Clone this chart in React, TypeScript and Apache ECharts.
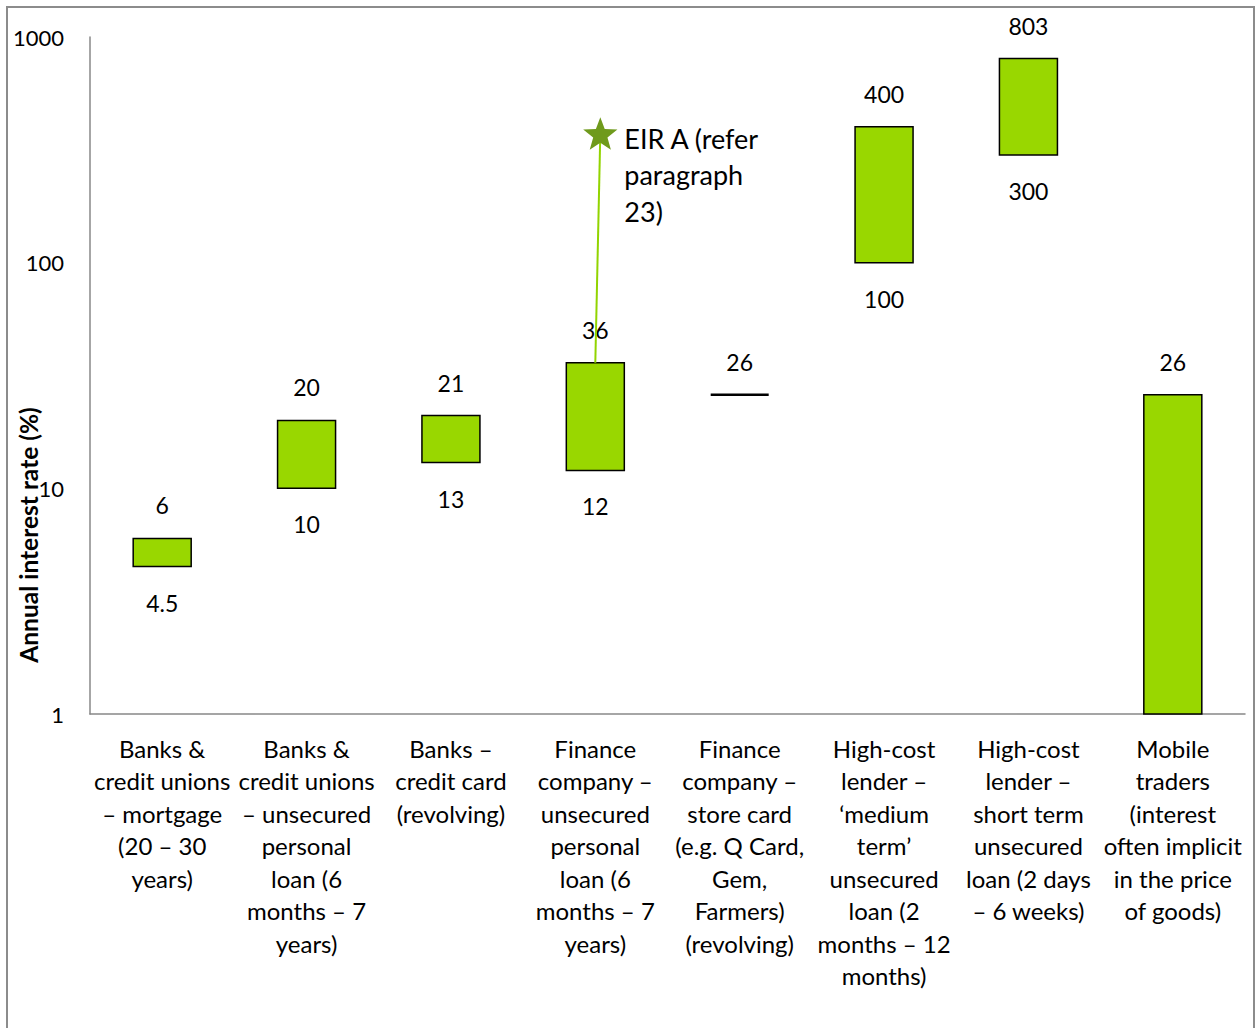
import React, { useEffect, useRef } from "react";
import * as echarts from "echarts";

const categories = [
  "Banks &\ncredit unions\n– mortgage\n(20 – 30\nyears)",
  "Banks &\ncredit unions\n– unsecured\npersonal\nloan (6\nmonths – 7\nyears)",
  "Banks –\ncredit card\n(revolving)",
  "Finance\ncompany –\nunsecured\npersonal\nloan (6\nmonths – 7\nyears)",
  "Finance\ncompany –\nstore card\n(e.g. Q Card,\nGem,\nFarmers)\n(revolving)",
  "High-cost\nlender –\n‘medium\nterm’\nunsecured\nloan (2\nmonths – 12\nmonths)",
  "High-cost\nlender –\nshort term\nunsecured\nloan (2 days\n– 6 weeks)",
  "Mobile\ntraders\n(interest\noften implicit\nin the price\nof goods)",
];
const lowValues = [4.5, 10, 13, 12, 26, 100, 300, 1];
const highValues = [6, 20, 21, 36, 26, 400, 803, 26];
const lowLabels = ["4.5", "10", "13", "12", "", "100", "300", ""];
const highLabels = ["6", "20", "21", "36", "26", "400", "803", "26"];
const eirCategory = 3;
const eirFrom = 36;
const eirValue = 375;
const eirText = "EIR A (refer\nparagraph\n23)";
const yAxisTitle = "Annual interest rate (%)";

const FONT = "Lato, 'Noto Sans', sans-serif";

export default function App() {
  const ref = useRef<HTMLDivElement>(null);
  useEffect(() => {
    const chart = echarts.init(ref.current!, null, { renderer: "svg" });
    const barData = categories.map((_, i) => [i, lowValues[i], highValues[i]]);
    chart.setOption({
      animation: false,
      backgroundColor: "#fff",
      grid: { left: 90, right: 11, top: 37, bottom: 314, containLabel: false },
      xAxis: {
        type: "category",
        data: categories,
        axisLine: { show: true, lineStyle: { color: "#888", width: 1.5 } },
        axisTick: { show: false },
        axisLabel: {
          interval: 0,
          margin: 18,
          fontSize: 24,
          lineHeight: 32.5,
          color: "#000",
          fontFamily: FONT,
          align: "center",
        },
      },
      yAxis: {
        type: "log",
        logBase: 10,
        min: 1,
        max: 1000,
        axisLine: { show: true, lineStyle: { color: "#888", width: 1.5 } },
        axisTick: { show: false },
        splitLine: { show: false },
        axisLabel: {
          margin: 26,
          fontSize: 22,
          color: "#000",
          fontFamily: FONT,
          formatter: (v: number) => String(Math.round(v)),
        },
      },
      graphic: [
        {
          type: "rect",
          shape: { x: 7, y: 7, width: 1247, height: 1100 },
          style: { fill: "none", stroke: "#8c8c8c", lineWidth: 2 },
          silent: true,
        },
        {
          type: "text",
          x: 28,
          y: 535,
          rotation: Math.PI / 2,
          style: {
            text: yAxisTitle,
            fontSize: 24.5,
            fontWeight: "bold",
            fontFamily: FONT,
            fill: "#000",
            align: "center",
            verticalAlign: "middle",
          },
        },
      ],
      series: [
        {
          type: "custom",
          data: barData,
          encode: { x: 0, y: [1, 2] },
          renderItem: (params: any, api: any) => {
            const i = api.value(0);
            const lo = api.value(1);
            const hi = api.value(2);
            const top = api.coord([i, hi]);
            const bot = api.coord([i, lo]);
            const w = 58;
            const children: any[] = [];
            if (hi === lo) {
              children.push({
                type: "line",
                shape: { x1: top[0] - w / 2, y1: top[1], x2: top[0] + w / 2, y2: top[1] },
                style: { stroke: "#000", lineWidth: 2.5 },
              });
            } else {
              children.push({
                type: "rect",
                shape: { x: top[0] - w / 2, y: top[1], width: w, height: bot[1] - top[1] },
                style: { fill: "#99D700", stroke: "#000", lineWidth: 1.5 },
              });
            }
            children.push({
              type: "text",
              style: {
                text: highLabels[i],
                x: top[0],
                y: top[1] - 33,
                align: "center",
                verticalAlign: "middle",
                fontSize: 23,
                fontFamily: FONT,
                fill: "#000",
              },
            });
            if (lowLabels[i]) {
              children.push({
                type: "text",
                style: {
                  text: lowLabels[i],
                  x: bot[0],
                  y: bot[1] + 36,
                  align: "center",
                  verticalAlign: "middle",
                  fontSize: 23,
                  fontFamily: FONT,
                  fill: "#000",
                },
              });
            }
            return { type: "group", children };
          },
        },
        {
          type: "custom",
          data: [[eirCategory, eirFrom, eirValue]],
          encode: { x: 0, y: [1, 2] },
          z: 5,
          renderItem: (params: any, api: any) => {
            const i = api.value(0);
            const from = api.coord([i, api.value(1)]);
            const to = api.coord([i, api.value(2)]);
            const sx = to[0] + 5;
            const sy = to[1];
            const pts: number[][] = [];
            for (let k = 0; k < 10; k++) {
              const r = k % 2 === 0 ? 18 : 7.5;
              const a = -Math.PI / 2 + (k * Math.PI) / 5;
              pts.push([sx + r * Math.cos(a), sy + 2 + r * Math.sin(a)]);
            }
            return {
              type: "group",
              children: [
                {
                  type: "line",
                  shape: { x1: from[0], y1: from[1], x2: sx, y2: sy },
                  style: { stroke: "#92D400", lineWidth: 2 },
                },
                {
                  type: "polygon",
                  shape: { points: pts },
                  style: { fill: "#6F9A1C" },
                },
                {
                  type: "text",
                  style: {
                    text: eirText,
                    x: sx + 24,
                    y: sy - 13,
                    align: "left",
                    verticalAlign: "top",
                    fontSize: 27,
                    lineHeight: 36.5,
                    fontFamily: FONT,
                    fill: "#000",
                  },
                },
              ],
            };
          },
        },
      ],
    });
    return () => chart.dispose();
  }, []);
  return (
    <div
      ref={ref}
      style={{ position: "fixed", left: 0, top: 0, width: 1256, height: 1028 }}
    />
  );
}
